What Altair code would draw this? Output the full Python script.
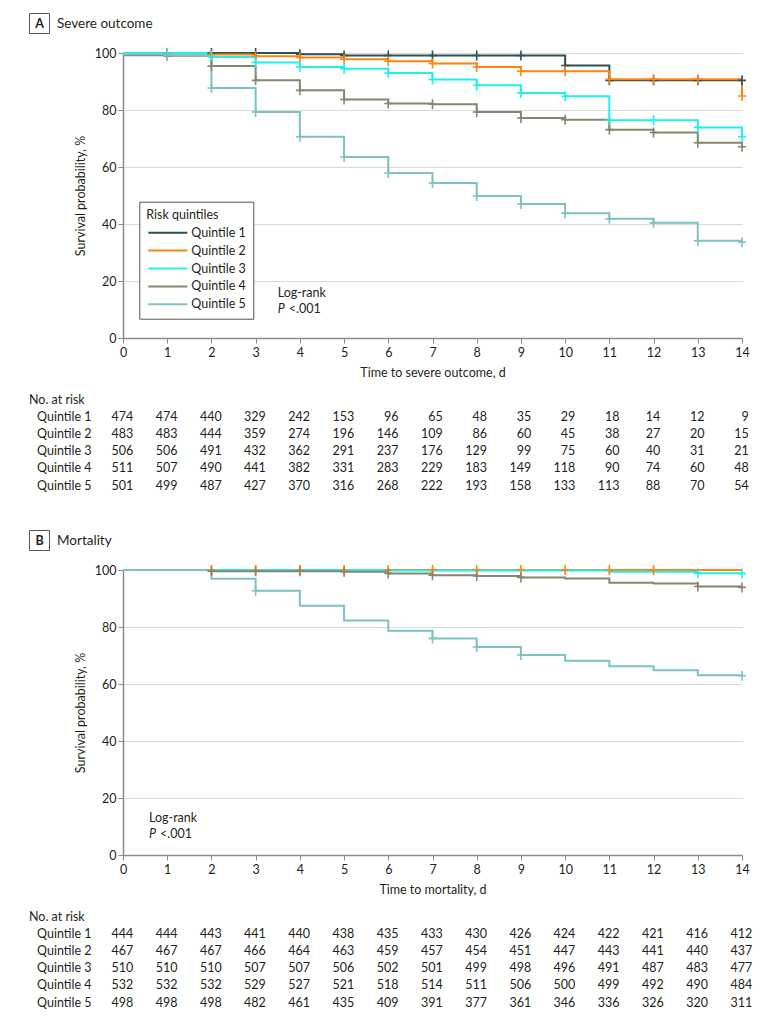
import altair as alt
import pandas as pd

# ---------------- data ----------------
DAYS = list(range(15))
QUINTILES = ["Quintile 1", "Quintile 2", "Quintile 3", "Quintile 4", "Quintile 5"]
COLORS = ["#2b5252", "#ff8410", "#1ef0f0", "#86866f", "#7dc2c2"]
Y_TICKS = [0, 20, 40, 60, 80, 100]

# Panel A: severe outcome, survival % on [day, day+1)
SEV_Q1 = [100, 100, 100, 100, 99.6, 99.1, 99.1, 99.1, 99.1, 99.1, 95.6, 90.4, 90.4, 90.4, 90.4]
SEV_Q2 = [100, 99.9, 99.5, 98.9, 98.4, 97.8, 97.1, 96.3, 95.1, 93.6, 93.6, 90.8, 90.8, 90.8, 84.9]
SEV_Q3 = [100, 100, 98.6, 96.7, 95.1, 94.5, 93.0, 90.7, 88.7, 86.0, 84.8, 76.4, 76.4, 73.9, 70.6]
SEV_Q4 = [99.2, 99.0, 95.4, 90.4, 86.9, 83.7, 82.3, 82.0, 79.3, 77.2, 76.6, 73.1, 72.1, 68.5, 67.1]
SEV_Q5 = [99.6, 99.2, 87.7, 79.3, 70.6, 63.5, 57.9, 54.4, 49.8, 47.0, 43.8, 41.8, 40.4, 34.1, 33.6]
SEV_CENSOR_Q1 = list(range(1, 15))
SEV_CENSOR_Q2 = list(range(1, 15))
SEV_CENSOR_Q3 = list(range(1, 15))
SEV_CENSOR_Q4 = list(range(1, 15))
SEV_CENSOR_Q5 = list(range(1, 15))

# Panel B: mortality
MOR_Q1 = [100, 100, 100, 100, 100, 100, 100, 100, 100, 100, 100, 100, 100, 100, 100]
MOR_Q2 = [100, 100, 100, 100, 100, 100, 100, 100, 100, 100, 100, 100, 100, 100, 100]
MOR_Q3 = [100, 100, 100, 100, 100, 100, 99.8, 99.8, 99.8, 99.8, 99.8, 99.4, 99.4, 98.9, 98.8]
MOR_Q4 = [100, 100, 99.6, 99.6, 99.6, 99.4, 98.8, 98.2, 97.9, 97.4, 97.0, 95.5, 95.3, 94.2, 93.9]
MOR_Q5 = [100, 100, 96.9, 92.7, 87.5, 82.3, 78.7, 76.0, 73.0, 70.2, 68.2, 66.2, 64.8, 63.1, 62.9]
MOR_CENSOR_Q1 = []
MOR_CENSOR_Q2 = [2, 3, 4, 5, 6, 7, 8, 9, 10, 11, 12]
MOR_CENSOR_Q3 = [13, 14]
MOR_CENSOR_Q4 = [2, 3, 4, 5, 6, 7, 8, 9, 13, 14]
MOR_CENSOR_Q5 = [3, 7, 8, 9, 14]

# Numbers at risk
SEV_RISK_Q1 = [474, 474, 440, 329, 242, 153, 96, 65, 48, 35, 29, 18, 14, 12, 9]
SEV_RISK_Q2 = [483, 483, 444, 359, 274, 196, 146, 109, 86, 60, 45, 38, 27, 20, 15]
SEV_RISK_Q3 = [506, 506, 491, 432, 362, 291, 237, 176, 129, 99, 75, 60, 40, 31, 21]
SEV_RISK_Q4 = [511, 507, 490, 441, 382, 331, 283, 229, 183, 149, 118, 90, 74, 60, 48]
SEV_RISK_Q5 = [501, 499, 487, 427, 370, 316, 268, 222, 193, 158, 133, 113, 88, 70, 54]

MOR_RISK_Q1 = [444, 444, 443, 441, 440, 438, 435, 433, 430, 426, 424, 422, 421, 416, 412]
MOR_RISK_Q2 = [467, 467, 467, 466, 464, 463, 459, 457, 454, 451, 447, 443, 441, 440, 437]
MOR_RISK_Q3 = [510, 510, 510, 507, 507, 506, 502, 501, 499, 498, 496, 491, 487, 483, 477]
MOR_RISK_Q4 = [532, 532, 532, 529, 527, 521, 518, 514, 511, 506, 500, 499, 492, 490, 484]
MOR_RISK_Q5 = [498, 498, 498, 482, 461, 435, 409, 391, 377, 361, 346, 336, 326, 320, 311]

PANEL_LETTERS = ["A", "B"]
PANEL_TITLES = ["Severe outcome", "Mortality"]
X_TITLES = ["Time to severe outcome, d", "Time to mortality, d"]
Y_TITLE = "Survival probability, %"
LEGEND_TITLE = "Risk quintiles"
LOGRANK = ["Log-rank", "P", "<.001"]
RISK_HEADER = "No. at risk"

# ---------------- style ----------------
FONT = "Lato"
TXT = "#231f20"
AXIS_GRAY = "#8a8a8a"
GRID = "#d9d9d9"
PLOT_W = 619
PLOT_H = 285
FS = 12.5
PLUS = "M0,-1V1M-0.8,0H0.8"
LEGEND_LINE = "M-3,0H3"

color_scale = alt.Scale(domain=QUINTILES, range=COLORS)


def surv_frame(series):
    rows = []
    for q, vals in zip(QUINTILES, series):
        for d, v in zip(DAYS, vals):
            rows.append({"quintile": q, "day": d, "surv": v})
    return pd.DataFrame(rows)


def censor_frame(series, censor):
    rows = []
    for q, vals, cd in zip(QUINTILES, series, censor):
        for d in cd:
            rows.append({"quintile": q, "day": d, "surv": vals[d]})
    return pd.DataFrame(rows, columns=["quintile", "day", "surv"])


def km_panel(series, censor, idx, show_legend, lr_x, lr_y):
    x = alt.X(
        "day:Q",
        scale=alt.Scale(domain=[0, 14], nice=False, zero=False),
        axis=alt.Axis(values=DAYS, title=X_TITLES[idx], format="d", grid=False,
                      domainColor=AXIS_GRAY, domainWidth=1.5, tickColor=AXIS_GRAY,
                      tickSize=5, tickWidth=1, labelPadding=3, titlePadding=8,
                      labelFontSize=FS, titleFontSize=FS, titleFontWeight="normal",
                      labelColor=TXT, titleColor=TXT, labelFlush=False, labelOverlap=False),
    )
    y = alt.Y(
        "surv:Q",
        scale=alt.Scale(domain=[0, 100], nice=False),
        axis=alt.Axis(values=Y_TICKS, title=Y_TITLE, grid=True, gridColor=GRID, gridWidth=1,
                      domainColor=AXIS_GRAY, domainWidth=1.5, tickColor=AXIS_GRAY,
                      tickSize=5, tickWidth=1, labelPadding=2, titlePadding=7,
                      labelFontSize=FS, titleFontSize=FS, titleFontWeight="normal",
                      labelColor=TXT, titleColor=TXT, labelFlush=False, labelOverlap=False),
    )
    if show_legend:
        legend = alt.Legend(
            title=LEGEND_TITLE, orient="none", legendX=16.3, legendY=148.7,
            symbolType=LEGEND_LINE, symbolSize=169, symbolStrokeWidth=2,
            symbolOffset=14, labelOffset=16, rowPadding=3.9, padding=7,
            strokeColor="#555555", fillColor="white", cornerRadius=0,
            titleFontSize=FS, titleFontWeight="normal", titleColor=TXT, titlePadding=4,
            labelFontSize=FS, labelColor=TXT,
        )
        color = alt.Color("quintile:N", scale=color_scale, legend=legend)
    else:
        color = alt.Color("quintile:N", scale=color_scale, legend=None)

    lines = alt.Chart(surv_frame(series)).mark_line(
        interpolate="step-after", strokeWidth=2
    ).encode(x=x, y=y, color=color)

    marks = alt.Chart(censor_frame(series, censor)).mark_point(
        shape=PLUS, size=100, filled=False, strokeWidth=1.6, opacity=1
    ).encode(
        x="day:Q", y="surv:Q",
        color=alt.Color("quintile:N", scale=color_scale, legend=None),
    )

    hdr = pd.DataFrame({"letter": [PANEL_LETTERS[idx]], "title": [PANEL_TITLES[idx]]})
    box = alt.Chart(hdr).mark_rect(fill="white", stroke="#555555", strokeWidth=1).encode(
        x=alt.value(-93.5), x2=alt.value(-73.5), y=alt.value(-39.5), y2=alt.value(-19.5)
    )
    letter = alt.Chart(hdr).mark_text(
        fontWeight="bold", fontSize=12.5, align="center", baseline="middle", color=TXT
    ).encode(x=alt.value(-83.5), y=alt.value(-29.3), text="letter:N")
    title = alt.Chart(hdr).mark_text(
        fontSize=13.5, align="left", baseline="middle", color=TXT
    ).encode(x=alt.value(-66), y=alt.value(-29.3), text="title:N")

    lr = pd.DataFrame({"a": [LOGRANK[0]], "p": [LOGRANK[1]], "v": [LOGRANK[2]]})
    lr1 = alt.Chart(lr).mark_text(fontSize=FS, align="left", baseline="middle", color=TXT).encode(
        x=alt.value(lr_x), y=alt.value(lr_y), text="a:N")
    lr2 = alt.Chart(lr).mark_text(fontSize=FS, align="left", baseline="middle", color=TXT,
                                  fontStyle="italic").encode(
        x=alt.value(lr_x), y=alt.value(lr_y + 16), text="p:N")
    lr3 = alt.Chart(lr).mark_text(fontSize=FS, align="left", baseline="middle", color=TXT).encode(
        x=alt.value(lr_x + 11), y=alt.value(lr_y + 16), text="v:N")

    return alt.layer(lines, marks, box, letter, title, lr1, lr2, lr3).properties(
        width=PLOT_W, height=PLOT_H
    )


def risk_table(risk, height):
    widths = [max(len(str(vals[d])) for vals in risk) for d in DAYS]
    rows = []
    for q, vals in zip(QUINTILES, risk):
        for d, n in zip(DAYS, vals):
            rows.append({"row": q, "day": d, "n": str(n), "w": widths[d]})
    df = pd.DataFrame(rows)
    ydom = [RISK_HEADER] + QUINTILES
    yscale = alt.Scale(domain=ydom, range=[8.6, 94.6], padding=0)
    x = alt.X("day:Q", scale=alt.Scale(domain=[0, 14], nice=False, zero=False), axis=None)
    layers = []
    for w in sorted(set(widths)):
        layers.append(
            alt.Chart(df).transform_filter(alt.datum.w == w).mark_text(
                align="right", baseline="middle", dx=3.4 * w, fontSize=FS, color=TXT
            ).encode(x=x, y=alt.Y("row:N", scale=yscale, axis=None), text="n:N")
        )
    labels = alt.Chart(pd.DataFrame({"row": QUINTILES})).mark_text(
        align="right", baseline="middle", fontSize=FS, color=TXT
    ).encode(x=alt.value(-31.5), y=alt.Y("row:N", scale=yscale, axis=None), text="row:N")
    header = alt.Chart(pd.DataFrame({"row": [RISK_HEADER]})).mark_text(
        align="left", baseline="middle", fontSize=FS, color=TXT
    ).encode(x=alt.value(-94), y=alt.Y("row:N", scale=yscale, axis=None), text="row:N")
    return alt.layer(*layers, labels, header).properties(width=PLOT_W, height=height)


panel_a = km_panel([SEV_Q1, SEV_Q2, SEV_Q3, SEV_Q4, SEV_Q5],
                   [SEV_CENSOR_Q1, SEV_CENSOR_Q2, SEV_CENSOR_Q3, SEV_CENSOR_Q4, SEV_CENSOR_Q5],
                   0, True, 154.7, 240.3)
table_a = risk_table([SEV_RISK_Q1, SEV_RISK_Q2, SEV_RISK_Q3, SEV_RISK_Q4, SEV_RISK_Q5], 126.6)
panel_b = km_panel([MOR_Q1, MOR_Q2, MOR_Q3, MOR_Q4, MOR_Q5],
                   [MOR_CENSOR_Q1, MOR_CENSOR_Q2, MOR_CENSOR_Q3, MOR_CENSOR_Q4, MOR_CENSOR_Q5],
                   1, False, 26, 248.4)
table_b = risk_table([MOR_RISK_Q1, MOR_RISK_Q2, MOR_RISK_Q3, MOR_RISK_Q4, MOR_RISK_Q5], 103.2)

chart = alt.vconcat(panel_a, table_a, panel_b, table_b, spacing=12).resolve_scale(
    color="independent", x="independent", y="independent"
).resolve_legend(color="independent").properties(
    padding={"left": 21, "top": 5, "right": 5, "bottom": 0}
).configure(font=FONT).configure_view(stroke=None)

chart.save("out.html", embed_options={"renderer": "svg", "actions": False})
